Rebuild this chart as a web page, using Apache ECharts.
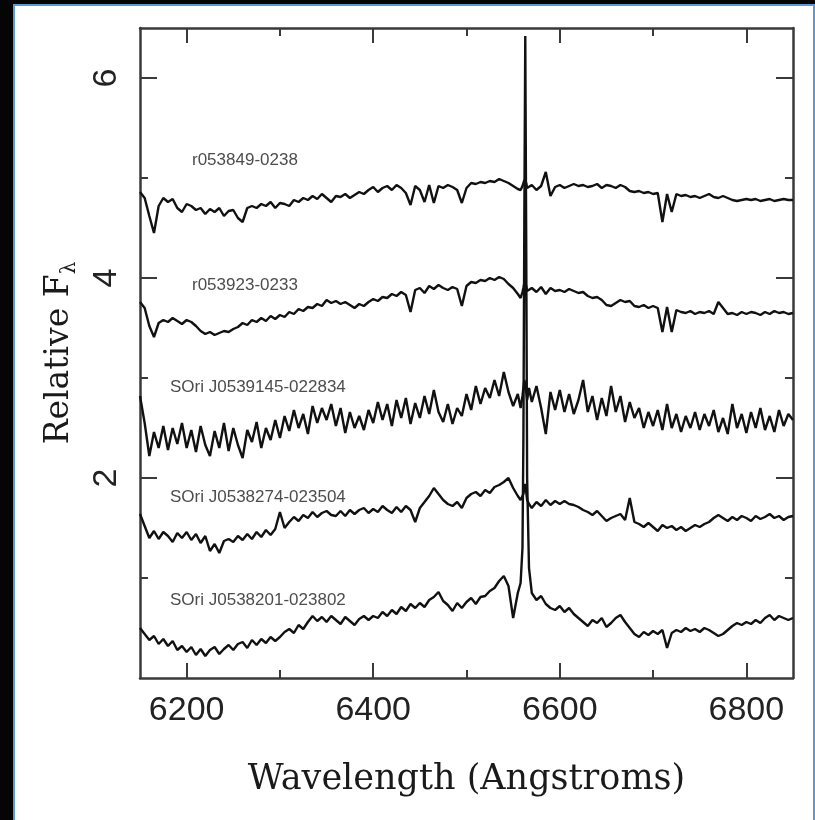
<!DOCTYPE html>
<html>
<head>
<meta charset="utf-8">
<script src="https://cdn.jsdelivr.net/npm/echarts@6/dist/echarts.min.js"></script>
<style>
  html, body { margin: 0; padding: 0; background: #ffffff; }
  #chart { width: 815px; height: 820px; }
</style>
</head>
<body>
<div id="chart"></div>
<script>
// ---- data ----
const wavelengths = [
  6150, 6155, 6160, 6165, 6170, 6175, 6180, 6185, 6190, 6195,
  6200, 6205, 6210, 6215, 6220, 6225, 6230, 6235, 6240, 6245,
  6250, 6255, 6260, 6265, 6270, 6275, 6280, 6285, 6290, 6295,
  6300, 6305, 6310, 6315, 6320, 6325, 6330, 6335, 6340, 6345,
  6350, 6355, 6360, 6365, 6370, 6375, 6380, 6385, 6390, 6395,
  6400, 6405, 6410, 6415, 6420, 6425, 6430, 6435, 6440, 6445,
  6450, 6455, 6460, 6465, 6470, 6475, 6480, 6485, 6490, 6495,
  6500, 6505, 6510, 6515, 6520, 6525, 6530, 6535, 6540, 6545,
  6550, 6555, 6558, 6560, 6561, 6562, 6563, 6564, 6565, 6567, 6570, 6575, 6580, 6585, 6590, 6595,
  6600, 6605, 6610, 6615, 6620, 6625, 6630, 6635, 6640, 6645,
  6650, 6655, 6660, 6665, 6670, 6675, 6680, 6685, 6690, 6695,
  6700, 6705, 6710, 6715, 6720, 6725, 6730, 6735, 6740, 6745,
  6750, 6755, 6760, 6765, 6770, 6775, 6780, 6785, 6790, 6795,
  6800, 6805, 6810, 6815, 6820, 6825, 6830, 6835, 6840, 6845,
  6850
];

const fluxR053849 = [
  4.86, 4.80, 4.62, 4.45, 4.72, 4.80, 4.76, 4.79, 4.70, 4.66,
  4.74, 4.72, 4.68, 4.70, 4.64, 4.69, 4.66, 4.70, 4.62, 4.67,
  4.68, 4.60, 4.56, 4.70, 4.72, 4.70, 4.74, 4.72, 4.76, 4.70,
  4.75, 4.74, 4.72, 4.78, 4.76, 4.80, 4.78, 4.82, 4.79, 4.84,
  4.80, 4.76, 4.82, 4.81, 4.84, 4.80, 4.83, 4.86, 4.84, 4.88,
  4.91, 4.86, 4.90, 4.92, 4.88, 4.93, 4.90, 4.85, 4.73, 4.92,
  4.88, 4.76, 4.93, 4.75, 4.92, 4.90, 4.93, 4.91, 4.88, 4.75,
  4.90, 4.95, 4.94, 4.96, 4.95, 4.97, 4.96, 4.99, 4.97, 4.95,
  4.92, 4.89, 4.88, 4.92, 4.95, 4.98, 4.99, 4.95, 4.90, 4.92, 4.93, 4.88, 4.92, 5.06, 4.82, 4.91,
  4.93, 4.90, 4.92, 4.94, 4.92, 4.93, 4.91, 4.92, 4.94, 4.90,
  4.93, 4.92, 4.90, 4.93, 4.91, 4.87, 4.86, 4.87, 4.85, 4.86,
  4.84, 4.85, 4.56, 4.84, 4.66, 4.84, 4.82, 4.83, 4.81, 4.82,
  4.80, 4.82, 4.84, 4.81, 4.80, 4.82, 4.80, 4.78, 4.77, 4.78,
  4.79, 4.78, 4.79, 4.77, 4.78, 4.79, 4.77, 4.78, 4.79, 4.78,
  4.78
];

const fluxR053923 = [
  3.76, 3.70, 3.52, 3.41, 3.55, 3.58, 3.56, 3.60, 3.57, 3.54,
  3.58, 3.56, 3.52, 3.47, 3.44, 3.46, 3.43, 3.45, 3.47, 3.46,
  3.49, 3.51, 3.55, 3.53, 3.58, 3.56, 3.60, 3.57, 3.62, 3.59,
  3.63, 3.61, 3.66, 3.64, 3.69, 3.67, 3.71, 3.70, 3.74, 3.72,
  3.78, 3.75, 3.77, 3.74, 3.76, 3.73, 3.70, 3.74, 3.72, 3.76,
  3.79, 3.77, 3.81, 3.80, 3.84, 3.82, 3.86, 3.83, 3.66, 3.88,
  3.90, 3.85, 3.92, 3.89, 3.93, 3.90, 3.88, 3.91, 3.89, 3.72,
  3.92, 3.96, 3.95, 3.98, 3.97, 4.00, 3.98, 4.01, 3.99, 3.94,
  3.90, 3.84, 3.80, 3.86, 3.90, 3.95, 3.97, 3.92, 3.87, 3.89, 3.90, 3.86, 3.91, 3.84, 3.90, 3.87,
  3.88, 3.86, 3.89, 3.87, 3.85, 3.86, 3.82, 3.80, 3.81, 3.78,
  3.73, 3.72, 3.75, 3.78, 3.76, 3.77, 3.72, 3.71, 3.73, 3.70,
  3.72, 3.70, 3.46, 3.71, 3.46, 3.68, 3.66, 3.65, 3.67, 3.64,
  3.66, 3.65, 3.67, 3.64, 3.76, 3.70, 3.64, 3.65, 3.63, 3.66,
  3.64, 3.66, 3.65, 3.63, 3.66, 3.64, 3.67, 3.65, 3.66, 3.64,
  3.65
];

const fluxJ0539145 = [
  2.82, 2.55, 2.22, 2.46, 2.30, 2.52, 2.28, 2.50, 2.34, 2.55,
  2.30, 2.48, 2.26, 2.52, 2.33, 2.22, 2.47, 2.30, 2.55, 2.27,
  2.50, 2.33, 2.20, 2.48, 2.36, 2.56, 2.30, 2.50, 2.38, 2.58,
  2.40, 2.62, 2.47, 2.68, 2.50, 2.64, 2.44, 2.72, 2.55, 2.70,
  2.58, 2.74, 2.52, 2.70, 2.45, 2.66, 2.50, 2.62, 2.48, 2.68,
  2.55, 2.76, 2.58, 2.74, 2.52, 2.78, 2.60, 2.80, 2.54, 2.75,
  2.60, 2.82, 2.64, 2.88, 2.66, 2.56, 2.74, 2.54, 2.70, 2.62,
  2.84, 2.68, 2.92, 2.74, 2.90, 2.80, 2.98, 2.82, 3.06, 2.86,
  2.72, 2.84, 2.70, 2.82, 2.90, 2.98, 2.93, 2.86, 2.78, 2.90, 2.76, 2.92, 2.70, 2.44, 2.86, 2.68,
  2.88, 2.66, 2.84, 2.64, 2.78, 2.98, 2.66, 2.82, 2.58, 2.80,
  2.62, 2.92, 2.66, 2.82, 2.56, 2.76, 2.60, 2.70, 2.50, 2.66,
  2.52, 2.68, 2.48, 2.74, 2.50, 2.64, 2.46, 2.62, 2.50, 2.66,
  2.48, 2.64, 2.52, 2.68, 2.46, 2.60, 2.44, 2.74, 2.50, 2.64,
  2.45, 2.66, 2.50, 2.70, 2.48, 2.62, 2.46, 2.68, 2.52, 2.64,
  2.58
];

const fluxJ0538274 = [
  1.64, 1.52, 1.40, 1.47, 1.39, 1.46, 1.42, 1.36, 1.45, 1.40,
  1.46, 1.38, 1.44, 1.35, 1.42, 1.27, 1.34, 1.25, 1.37, 1.39,
  1.36, 1.42, 1.38, 1.44, 1.39, 1.46, 1.41, 1.48, 1.43, 1.49,
  1.66, 1.50, 1.56, 1.61, 1.57, 1.63, 1.60, 1.66, 1.61, 1.65,
  1.67, 1.63, 1.62, 1.67, 1.62, 1.68, 1.64, 1.68, 1.70, 1.65,
  1.69, 1.66, 1.72, 1.68, 1.65, 1.71, 1.66, 1.72, 1.68, 1.56,
  1.70, 1.76, 1.82, 1.90, 1.84, 1.78, 1.74, 1.72, 1.76, 1.70,
  1.80, 1.84, 1.86, 1.82, 1.88, 1.85, 1.91, 1.93, 1.96, 2.00,
  1.90, 1.82, 1.78, 1.80, 1.84, 1.90, 1.94, 1.86, 1.78, 1.74, 1.70, 1.76, 1.72, 1.78, 1.73, 1.77,
  1.74, 1.77, 1.74, 1.73, 1.71, 1.68, 1.66, 1.63, 1.67, 1.62,
  1.57, 1.60, 1.62, 1.64, 1.58, 1.80, 1.56, 1.54, 1.51, 1.55,
  1.51, 1.47, 1.53, 1.50, 1.52, 1.48, 1.51, 1.47, 1.50, 1.53,
  1.51, 1.54, 1.56, 1.60, 1.63, 1.60, 1.57, 1.61, 1.58, 1.62,
  1.60, 1.57, 1.62, 1.59, 1.61, 1.64, 1.60, 1.62, 1.58, 1.61,
  1.62
];

const fluxJ0538201 = [
  0.50, 0.44, 0.38, 0.42, 0.34, 0.39, 0.32, 0.37, 0.28, 0.32,
  0.26, 0.31, 0.23, 0.29, 0.22, 0.28, 0.31, 0.24, 0.29, 0.33,
  0.28, 0.34, 0.36, 0.30, 0.38, 0.33, 0.39, 0.35, 0.41, 0.37,
  0.41, 0.46, 0.49, 0.45, 0.53, 0.49, 0.56, 0.62, 0.57, 0.61,
  0.56, 0.62, 0.58, 0.54, 0.61, 0.57, 0.53, 0.59, 0.62, 0.58,
  0.62, 0.60, 0.66, 0.62, 0.68, 0.64, 0.71, 0.67, 0.74, 0.70,
  0.75, 0.71, 0.78, 0.81, 0.86, 0.77, 0.73, 0.67, 0.75, 0.70,
  0.76, 0.80, 0.74, 0.81, 0.82, 0.87, 0.90, 0.97, 1.02, 0.92,
  0.60, 0.85, 0.95, 1.30, 2.40, 4.60, 6.42, 4.40, 2.00, 1.10, 0.85, 0.78, 0.82, 0.74, 0.70, 0.68,
  0.72, 0.66, 0.70, 0.64, 0.60, 0.56, 0.52, 0.58, 0.55, 0.60,
  0.51, 0.55, 0.60, 0.63, 0.56, 0.50, 0.44, 0.41, 0.46, 0.43,
  0.47, 0.44, 0.48, 0.30, 0.45, 0.48, 0.46, 0.50, 0.47, 0.49,
  0.46, 0.50, 0.48, 0.45, 0.42, 0.44, 0.48, 0.52, 0.55, 0.53,
  0.56, 0.54, 0.58, 0.55, 0.60, 0.63, 0.58, 0.62, 0.60, 0.58,
  0.60
];

const spectrumNames = [
  'r053849-0238',
  'r053923-0233',
  'SOri J0539145-022834',
  'SOri J0538274-023504',
  'SOri J0538201-023802'
];
const spectrumFluxes = [fluxR053849, fluxR053923, fluxJ0539145, fluxJ0538274, fluxJ0538201];

const xMajorTicks = [6200, 6400, 6600, 6800];
const xMinorTicks = [6300, 6500, 6700];
const yMajorTicks = [2, 4, 6];
const yMinorTicks = [1, 3, 5];

// ---- layout / styling ----
const X_MIN = 6150, X_MAX = 6850, Y_MIN = 0, Y_MAX = 6.5;
const AXIS_COLOR = '#3a3a3a';
const labelPos = [[192, 160], [192, 285], [170, 387], [170, 497], [170, 600]];
const plainNumber = v => String(v);

const chart = echarts.init(document.getElementById('chart'), null, { renderer: 'canvas' });

function makeX(position, ticks, len, showLine, showLabel, extra) {
  return Object.assign({
    type: 'value', position: position, min: X_MIN, max: X_MAX,
    axisLine: { show: showLine, onZero: false, lineStyle: { color: AXIS_COLOR, width: 2.5 } },
    axisTick: { show: true, inside: true, length: len, customValues: ticks, lineStyle: { color: AXIS_COLOR, width: 2 } },
    axisLabel: showLabel ? { show: true, customValues: ticks, formatter: plainNumber, fontSize: 34, fontFamily: 'Liberation Sans', color: '#222', margin: 16 } : { show: false },
    splitLine: { show: false }
  }, extra || {});
}
function makeY(position, ticks, len, showLine, showLabel, extra) {
  return Object.assign({
    type: 'value', position: position, min: Y_MIN, max: Y_MAX,
    axisLine: { show: showLine, onZero: false, lineStyle: { color: AXIS_COLOR, width: 2.5 } },
    axisTick: { show: true, inside: true, length: len, customValues: ticks, lineStyle: { color: AXIS_COLOR, width: 2 } },
    axisLabel: showLabel ? { show: true, customValues: ticks, formatter: plainNumber, rotate: 90, fontSize: 34, fontFamily: 'Liberation Sans', color: '#222', margin: 16 } : { show: false },
    splitLine: { show: false }
  }, extra || {});
}

const series = spectrumNames.map((name, i) => ({
  name: name,
  type: 'line',
  xAxisIndex: 0,
  yAxisIndex: 0,
  showSymbol: false,
  symbol: 'none',
  silent: true,
  clip: true,
  lineStyle: { color: '#111', width: 2.4 },
  data: wavelengths.map((w, k) => [w, spectrumFluxes[i][k]])
}));

const graphic = [
  { type: 'rect', shape: { x: 0, y: 0, width: 13, height: 820 }, style: { fill: '#050505' }, silent: true },
  { type: 'rect', shape: { x: 0, y: 0, width: 815, height: 4 }, style: { fill: '#050505' }, silent: true },
  { type: 'rect', shape: { x: 13, y: 4, width: 2, height: 816 }, style: { fill: '#5b9bd5' }, silent: true },
  { type: 'rect', shape: { x: 13, y: 4, width: 802, height: 2 }, style: { fill: '#5b9bd5' }, silent: true },
  { type: 'rect', shape: { x: 813, y: 4, width: 2, height: 816 }, style: { fill: '#5b9bd5' }, silent: true }
].concat(spectrumNames.map((name, i) => ({
  type: 'text', x: labelPos[i][0], y: labelPos[i][1], silent: true,
  style: { text: name, font: '17px "Liberation Sans"', fill: '#4d4d4d', verticalAlign: 'middle', align: 'left' }
})));

chart.setOption({
  animation: false,
  backgroundColor: '#ffffff',
  grid: { left: 140, right: 22, top: 28, bottom: 142, containLabel: false },
  xAxis: [
    makeX('bottom', xMajorTicks, 15, true, true, {
      name: 'Wavelength (Angstroms)', nameLocation: 'middle', nameGap: 84,
      nameTextStyle: { fontFamily: 'DejaVu Serif', fontSize: 35, color: '#1a1a1a' }
    }),
    makeX('bottom', xMinorTicks, 8, false, false),
    makeX('top', xMajorTicks, 15, true, false),
    makeX('top', xMinorTicks, 8, false, false)
  ],
  yAxis: [
    makeY('left', yMajorTicks, 17, true, true, {
      name: 'Relative F{s|λ}', nameLocation: 'middle', nameGap: 60, nameRotate: 90,
      nameTextStyle: {
        fontFamily: 'DejaVu Serif', fontSize: 33, color: '#1a1a1a', lineHeight: 42,
        rich: { s: { fontFamily: 'DejaVu Serif', fontSize: 20, color: '#1a1a1a', lineHeight: 42, verticalAlign: 'bottom' } }
      }
    }),
    makeY('left', yMinorTicks, 8, false, false),
    makeY('right', yMajorTicks, 17, true, false),
    makeY('right', yMinorTicks, 8, false, false)
  ],
  series: series,
  graphic: graphic
});
</script>
</body>
</html>
